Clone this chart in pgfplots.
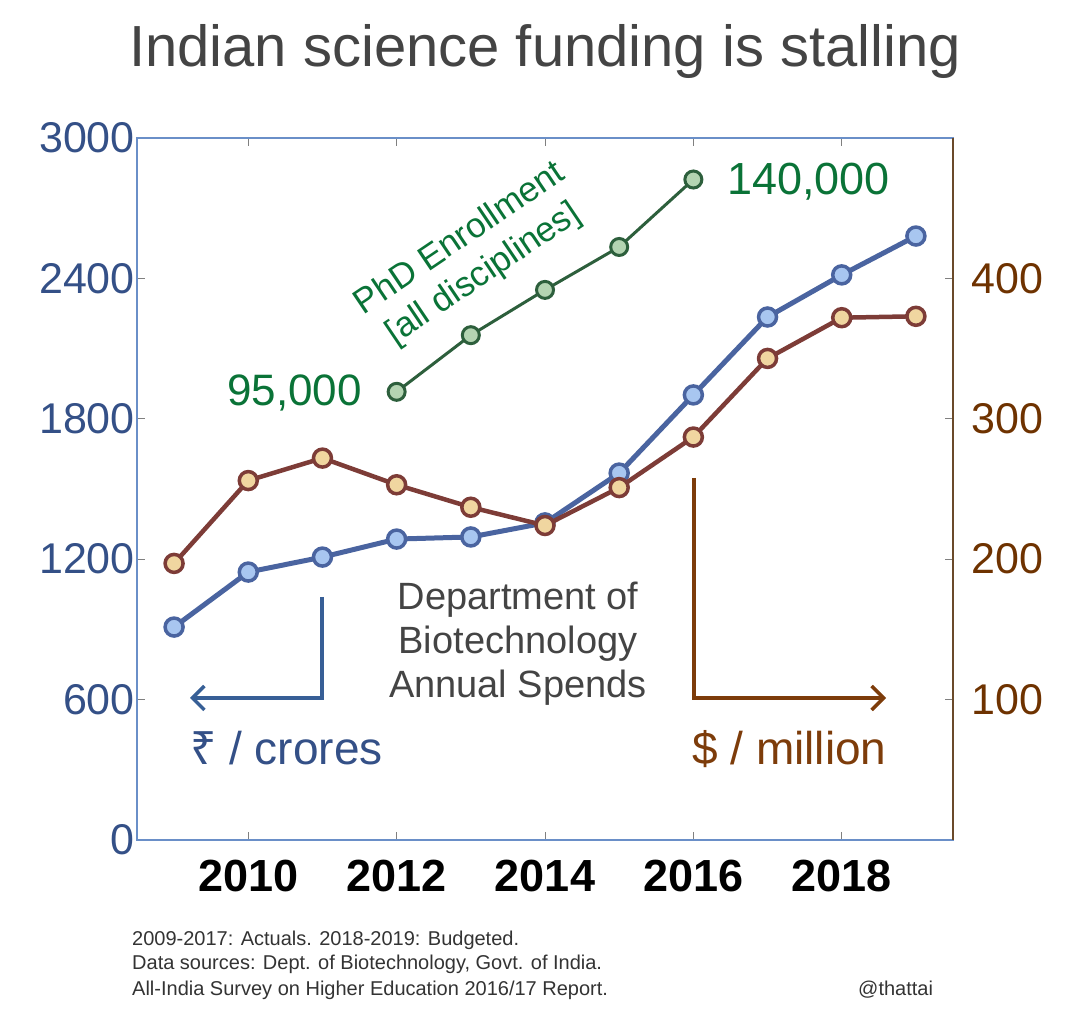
\documentclass[border=0pt]{standalone}
\usepackage{fontspec}
\setmainfont{Liberation Sans}
\newfontfamily\rupeefont{Noto Sans}
\usepackage{pgfplots}
\pgfplotsset{compat=1.18}
\usetikzlibrary{arrows.meta}

\definecolor{rline}{RGB}{74,100,160}
\definecolor{rfill}{RGB}{168,198,240}
\definecolor{dline}{RGB}{125,60,55}
\definecolor{dfill}{RGB}{240,214,160}
\definecolor{gline}{RGB}{45,95,60}
\definecolor{gfill}{RGB}{180,212,178}
\definecolor{gtext}{RGB}{10,115,55}
\definecolor{rtick}{RGB}{52,80,135}
\definecolor{dtick}{RGB}{110,50,0}
\definecolor{titlegray}{RGB}{68,68,68}
\definecolor{rarrow}{RGB}{55,95,150}
\definecolor{darrow}{RGB}{125,60,10}
\definecolor{leftline}{RGB}{106,143,200}
\definecolor{rightline}{RGB}{107,74,42}

\newcommand\fs[1]{\fontsize{#1bp}{1.15\dimexpr#1bp\relax}\selectfont}

\begin{document}
\begin{tikzpicture}
\useasboundingbox (0,0) rectangle (1091bp,1029bp);

% rupee spend, left axis
\begin{axis}[
  at={(137bp,189bp)}, anchor=south west,
  scale only axis, width=816bp, height=702bp,
  xmin=2008.5, xmax=2019.5, ymin=0, ymax=3000,
  xtick={2010,2012,2014,2016,2018},
  ytick={0,600,1200,1800,2400,3000},
  ytick pos=left,
  tick align=inside, major tick length=8bp,
  tick style={gray, line width=1bp},
  axis line style={gray!80!black, line width=1.2bp},
  y axis line style={leftline, line width=2bp},
  /pgf/number format/assume math mode=true,
  /pgf/number format/1000 sep={},
  xticklabel style={font=\fs{45}\bfseries, inner sep=0pt, anchor=north, yshift=-20bp},
  yticklabel style={font=\fs{43}, text=rtick, inner sep=0pt, anchor=east, xshift=-2bp},
  clip=false,
]
\addplot[rline, line width=5bp, mark=*, mark size=9bp,
  mark options={fill=rfill, draw=rline, line width=3.5bp}] coordinates {
  (2009,910) (2010,1145) (2011,1209) (2012,1286) (2013,1295) (2014,1355)
  (2015,1568) (2016,1902) (2017,2235) (2018,2415) (2019,2581)
};
\end{axis}

% PhD enrollment, hidden axis
\begin{axis}[
  at={(137bp,189bp)}, anchor=south west,
  scale only axis, width=816bp, height=702bp,
  xmin=2008.5, xmax=2019.5, ymin=0, ymax=148800,
  hide x axis, hide y axis, clip=false,
]
\addplot[gline, line width=3bp, mark=*, mark size=8.5bp,
  mark options={fill=gfill, draw=gline, line width=3bp}] coordinates {
  (2012,95000) (2013,107000) (2014,116600) (2015,125700) (2016,140000)
};
\end{axis}

% dollar spend, right axis
\begin{axis}[
  at={(137bp,189bp)}, anchor=south west,
  scale only axis, width=816bp, height=702bp,
  xmin=2008.5, xmax=2019.5, ymin=0, ymax=500,
  hide x axis, axis y line*=right,
  ytick={100,200,300,400},
  tick align=inside, major tick length=8bp,
  tick style={gray, line width=1bp},
  y axis line style={rightline, line width=1.5bp},
  /pgf/number format/assume math mode=true,
  yticklabel style={font=\fs{43}, text=dtick, inner sep=0pt, anchor=west, xshift=18bp},
  clip=false,
]
\addplot[dline, line width=4.5bp, mark=*, mark size=9bp,
  mark options={fill=dfill, draw=dline, line width=3.5bp}] coordinates {
  (2009,197) (2010,256) (2011,272) (2012,253) (2013,237) (2014,224)
  (2015,251) (2016,287) (2017,343) (2018,372) (2019,373)
};
\end{axis}

% title
\node[anchor=base, text=titlegray, font=\fs{58}, inner sep=0pt] at (545bp,962bp)
  {Indian science funding is stalling};

% PhD labels
\node[anchor=base east, text=gtext, font=\fs{44}, inner sep=0pt] at (362bp,623bp) {95,000};
\node[anchor=base west, text=gtext, font=\fs{45}, inner sep=0pt] at (727bp,834bp) {140,000};
\node[rotate=34, text=gtext, font=\fs{35}, align=center, inner sep=0pt] at (472bp,772bp)
  {PhD Enrollment\\[2bp][all disciplines]};

% department text
\node[text=titlegray, font=\fs{38}, align=center, inner sep=0pt, anchor=north]
  at (518bp,447bp) {Department of\\[0bp]Biotechnology\\[0bp]Annual Spends};

% unit arrows
\draw[rarrow, line width=3.5bp, -{Straight Barb[length=12bp,width=24bp]}]
  (322bp,432bp) -- (322bp,331bp) -- (190bp,331bp);
\draw[darrow, line width=3.5bp, -{Straight Barb[length=12bp,width=24bp]}]
  (694bp,551bp) -- (694bp,331bp) -- (886bp,331bp);
\node[anchor=base west, text=rtick, font=\fs{46}, inner sep=0pt] at (190bp,264bp)
  {{\rupeefont ₹} / crores};
\node[anchor=base west, text=darrow, font=\fs{46}, inner sep=0pt] at (692bp,264bp)
  {\$ / million};

% footnotes
\begin{scope}[every node/.style={anchor=base west, text=black!80, font=\fs{20}, inner sep=0pt}]
\node at (132bp,83bp) {2009-2017: Actuals. 2018-2019: Budgeted.};
\node at (132bp,59bp) {Data sources: Dept. of Biotechnology, Govt. of India.};
\node at (132bp,34bp) {All-India Survey on Higher Education 2016/17 Report.};
\node at (858bp,34bp) {@thattai};
\end{scope}
\end{tikzpicture}
\end{document}
